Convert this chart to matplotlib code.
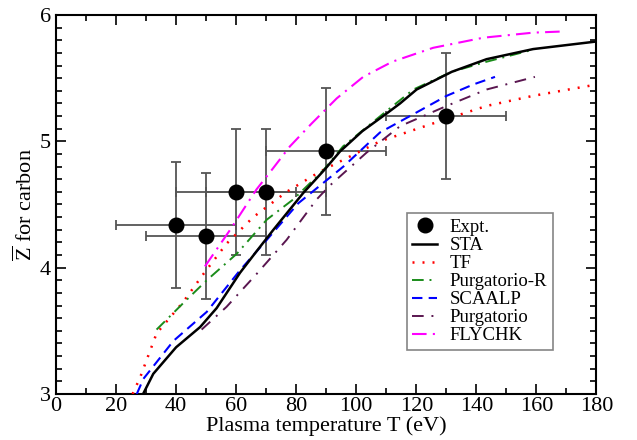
import matplotlib
matplotlib.use("Agg")
import matplotlib.pyplot as plt

plt.rcParams['font.family'] = ['Liberation Serif', 'DejaVu Serif']
plt.rcParams['mathtext.fontset'] = 'custom'
plt.rcParams['mathtext.rm'] = 'Liberation Serif'
plt.rcParams['mathtext.it'] = 'Liberation Serif:italic'

# Experimental data
expt_T = [40, 50, 60, 70, 90, 130]
expt_Z = [4.34, 4.25, 4.60, 4.60, 4.92, 5.20]
expt_Terr = [20, 20, 20, 20, 20, 20]
expt_Zerr = [0.5, 0.5, 0.5, 0.5, 0.5, 0.5]

sta_T = [29.0, 32.4, 40.0, 48.0, 53.5, 61.3, 66.8, 72.4, 82.3, 89.6, 94.6, 102.0, 110.1, 114.6, 120.1, 131.8, 143.4, 158.9, 180.0]
sta_Z = [3.00, 3.16, 3.37, 3.53, 3.68, 3.96, 4.13, 4.30, 4.59, 4.78, 4.92, 5.08, 5.22, 5.30, 5.41, 5.55, 5.65, 5.73, 5.79]

tf_T = [25.5, 28.0, 33.5, 42.4, 49.1, 56.8, 65.7, 76.8, 87.9, 107.9, 127.9, 143.4, 158.9, 177.8]
tf_Z = [3.00, 3.13, 3.48, 3.73, 3.95, 4.19, 4.40, 4.60, 4.76, 5.00, 5.16, 5.28, 5.36, 5.44]

pr_T = [33.5, 42.4, 50.2, 60.2, 70.2, 79.0, 89.0, 95.6, 110.1, 119.0, 131.8, 143.4, 158.0]
pr_Z = [3.51, 3.72, 3.90, 4.11, 4.38, 4.54, 4.77, 4.96, 5.24, 5.41, 5.55, 5.63, 5.72]

sc_T = [26.9, 29.1, 39.1, 50.2, 61.3, 70.2, 80.7, 95.7, 107.9, 117.9, 130.1, 139.0, 146.2]
sc_Z = [3.00, 3.12, 3.42, 3.65, 3.98, 4.22, 4.51, 4.80, 5.07, 5.20, 5.36, 5.45, 5.51]

pu_T = [48.5, 56.8, 66.8, 76.8, 86.8, 91.2, 103.4, 114.6, 130.1, 143.4, 159.5]
pu_Z = [3.51, 3.69, 3.95, 4.22, 4.54, 4.65, 4.91, 5.12, 5.28, 5.41, 5.51]

fly_T = [49.6, 58.0, 66.8, 72.4, 77.9, 85.1, 93.5, 102.3, 112.0, 125.6, 142.3, 158.9, 169.5]
fly_Z = [4.01, 4.30, 4.62, 4.79, 4.96, 5.14, 5.34, 5.51, 5.63, 5.74, 5.82, 5.86, 5.87]

fig = plt.figure(figsize=(6.37, 4.40), dpi=100)
ax = fig.add_axes([0.0879, 0.1045, 0.9364 - 0.0879, 0.966 - 0.1045])

ax.errorbar(expt_T, expt_Z, xerr=expt_Terr, yerr=expt_Zerr, fmt='none',
            ecolor='#555555', elinewidth=1.3, capsize=3.8, capthick=1.3, zorder=2)
ax.plot(expt_T, expt_Z, 'o', color='black', markersize=10.5, zorder=5, label='Expt.')

ax.plot(sta_T, sta_Z, '-', color='black', lw=1.8, label='STA', zorder=4)
ax.plot(tf_T, tf_Z, color='red', lw=1.8, linestyle=(0, (0.8, 3.2)), label='TF', zorder=3)
ax.plot(pr_T, pr_Z, color='#1a8c1a', lw=1.4, linestyle=(0, (6, 3, 1, 3)), label='Purgatorio-R', zorder=3)
ax.plot(sc_T, sc_Z, color='blue', lw=1.5, linestyle=(0, (5, 3)), label='SCAALP', zorder=3)
ax.plot(pu_T, pu_Z, color='#5a1650', lw=1.4, linestyle=(0, (6, 4, 1, 4)), label='Purgatorio', zorder=3)
ax.plot(fly_T, fly_Z, color='#ff00ff', lw=1.5, linestyle=(0, (7, 3, 1, 3)), label='FLYCHK', zorder=3)

ax.set_xlim(0, 180)
ax.set_ylim(3, 6)
ax.set_xticks(range(0, 181, 20))
ax.set_xticks(range(0, 181, 10), minor=True)
ax.set_yticks([3, 4, 5, 6])
ax.set_yticks([3 + 0.1 * i for i in range(31)], minor=True)
ax.tick_params(which='both', direction='in', top=True, right=True, labelsize=16, width=1.2)
ax.tick_params(which='major', length=7)
ax.tick_params(which='minor', length=4)
ax.tick_params(axis='x', pad=2)
for s in ax.spines.values():
    s.set_linewidth(1.5)

ax.set_xlabel('Plasma temperature T (eV)', fontsize=16, labelpad=0)
ax.set_ylabel(r'$\overline{\mathrm{Z}}$ for carbon', fontsize=16, labelpad=2)

leg = ax.legend(loc='lower left', bbox_to_anchor=(0.649, 0.116), fontsize=13.5,
                frameon=True, fancybox=False, edgecolor='#666666',
                handlelength=1.3, handletextpad=0.7, labelspacing=0.05,
                borderpad=0.3, borderaxespad=0, markerscale=1.0)
leg.get_frame().set_linewidth(1.2)

fig.savefig('out.png', dpi=100)
